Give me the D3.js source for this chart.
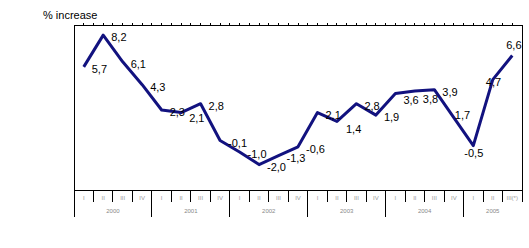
<!DOCTYPE html>
<html>
<head>
<meta charset="utf-8">
<script src="https://cdn.jsdelivr.net/npm/d3@7"></script>
<style>
  body { margin: 0; background: #fff; }
  svg { display: block; font-family: "Liberation Sans", Arial, sans-serif; }
</style>
</head>
<body>
<svg id="chart" width="529" height="248"></svg>
<script>
// quarters and years
const quarters = ["I", "II", "III", "IV", "I", "II", "III", "IV", "I", "II", "III", "IV",
    "I", "II", "III", "IV", "I", "II", "III", "IV", "I", "II", "III(*)"];
const years = ["2000", "2001", "2002", "2003", "2004", "2005"];
// how many quarters each year has on the axis
const yearQuarters = [4, 4, 4, 4, 4, 3];

// % increase per quarter
const values = [5.7, 8.2, 6.1, 4.3, 2.3, 2.1, 2.8, -0.1, -1.0, -2.0, -1.3, -0.6,
    2.1, 1.4, 2.8, 1.9, 3.6, 3.8, 3.9, 1.7, -0.5, 4.7, 6.6];

const yDomain = [-4, 9];

//--------------------
// setup
const svg = d3.select("#chart");
const margin = { left: 74, top: 25, right: 7, bottom: 58 };
const width = 529 - margin.left - margin.right;
const height = 248 - margin.top - margin.bottom;

const g = svg.append("g")
    .attr("transform", `translate(${margin.left},${margin.top})`);

const x = d3.scaleBand()
    .domain(d3.range(values.length))
    .range([0, width]);

const y = d3.scaleLinear()
    .domain(yDomain)
    .range([height, 0]);

// frame
g.append("path")
    .attr("d", `M0,${height + 27}V0H${width}V${height}`)
    .attr("fill", "none")
    .attr("stroke", "black")
    .attr("stroke-width", 1)
    .attr("shape-rendering", "crispEdges");

// bottom axis line
g.append("line")
    .attr("x1", 0).attr("x2", width)
    .attr("y1", height).attr("y2", height)
    .attr("stroke", "black")
    .attr("shape-rendering", "crispEdges");

// little ticks on the top edge, every half quarter
g.selectAll(".topTick")
    .data(d3.range(1, values.length * 2))
    .join("line")
    .attr("class", "topTick")
    .attr("x1", d => d * x.bandwidth() / 2)
    .attr("x2", d => d * x.bandwidth() / 2)
    .attr("y1", 0).attr("y2", -2)
    .attr("stroke", "black")
    .attr("shape-rendering", "crispEdges");

// year boundaries (index of first quarter of each year)
const yearStarts = [];
let acc = 0;
yearQuarters.forEach(n => { yearStarts.push(acc); acc += n; });

// quarter separators, the long ones split the years
g.selectAll(".qTick")
    .data(d3.range(1, values.length + 1))
    .join("line")
    .attr("class", "qTick")
    .attr("x1", d => d * x.step())
    .attr("x2", d => d * x.step())
    .attr("y1", height)
    .attr("y2", d => yearStarts.includes(d) ? height + 27 : height + 12)
    .attr("stroke", "black")
    .attr("shape-rendering", "crispEdges");

// quarter labels
g.selectAll(".qLabel")
    .data(quarters)
    .join("text")
    .attr("class", "qLabel")
    .attr("x", (d, i) => x(i) + x.bandwidth() / 2)
    .attr("y", height + 10)
    .attr("text-anchor", "middle")
    .attr("font-size", "6px")
    .attr("fill", "#999")
    .text(d => d);

// year labels
g.selectAll(".yLabel")
    .data(years)
    .join("text")
    .attr("class", "yLabel")
    .attr("x", (d, i) => x(yearStarts[i]) + yearQuarters[i] * x.step() / 2)
    .attr("y", height + 23)
    .attr("text-anchor", "middle")
    .attr("font-size", "6px")
    .attr("fill", "#888")
    .text(d => d);

// the line
const line = d3.line()
    .x((d, i) => x(i) + x.bandwidth() / 2)
    .y(d => y(d));

g.append("path")
    .datum(values)
    .attr("d", line)
    .attr("fill", "none")
    .attr("stroke", "#12127f")
    .attr("stroke-width", 3)
    .attr("stroke-linejoin", "round");

// value labels, most sit to the right of the point
// a few are moved so they don't hit the line
const labelPlace = {
    5: [8, 5],      // 2,1
    13: [9, 8],     // 1,4
    16: [8, 6],     // 3,6
    17: [8, 8],     // 3,8
    19: [1, -3],    // 1,7
    20: [-9, 7],    // -0,5
    21: [-7, 2],    // 4,7
    22: [-6, -10]   // 6,6
};

g.selectAll(".vLabel")
    .data(values)
    .join("text")
    .attr("class", "vLabel")
    .attr("x", (d, i) => x(i) + x.bandwidth() / 2 + (labelPlace[i] ? labelPlace[i][0] : 8))
    .attr("y", (d, i) => y(d) + (labelPlace[i] ? labelPlace[i][1] : 2) + 4)
    .attr("font-size", "11px")
    .attr("fill", "black")
    .text(d => d.toFixed(1).replace(".", ","));

// axis title
svg.append("text")
    .attr("x", 43)
    .attr("y", 19)
    .attr("font-size", "11px")
    .attr("fill", "black")
    .text("% increase");
</script>
</body>
</html>
